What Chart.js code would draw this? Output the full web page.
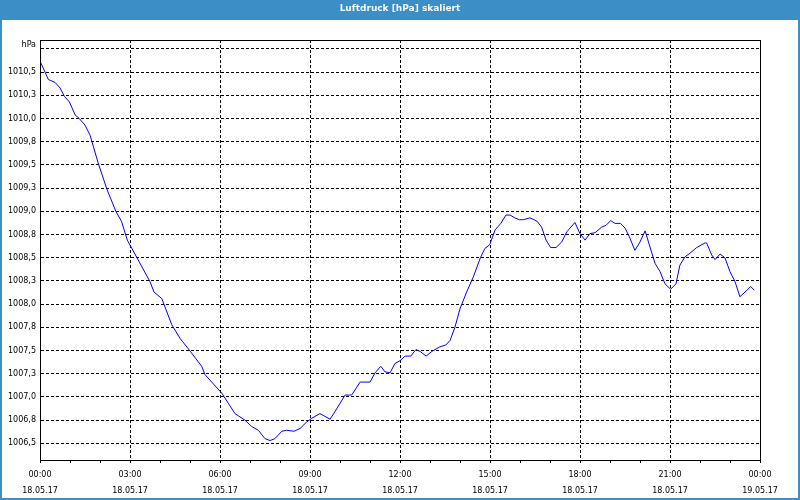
<!DOCTYPE html>
<html>
<head>
<meta charset="utf-8">
<title>Luftdruck</title>
<script src="https://cdn.jsdelivr.net/npm/chart.js@4.4.1/dist/chart.umd.min.js"></script>
<style>
  body { margin: 0; background: #fff; }
  canvas { display: block; }
</style>
</head>
<body>
<canvas id="chart" width="800" height="500"></canvas>
<script>
// time in hours since 18.05.17 00:00
const times = [0, 0.28, 0.36, 0.5, 0.67, 0.81, 0.98, 1.17, 1.31, 1.5, 1.67, 1.94, 2.24, 2.53, 2.72, 2.91,
  3.3, 3.67, 3.8, 4.06, 4.39, 4.67, 4.94, 5.39, 5.5, 6.06, 6.28, 6.5, 6.83, 7.06, 7.28, 7.5, 7.67, 7.83,
  8.06, 8.22, 8.47, 8.67, 8.89, 9.06, 9.33, 9.67, 9.83, 10.17, 10.39, 10.67, 11.0, 11.17, 11.36, 11.5,
  11.67, 11.83, 12.0, 12.17, 12.36, 12.53, 12.67, 12.87, 13.06, 13.33, 13.53, 13.67, 13.83, 14.0, 14.22,
  14.44, 14.68, 14.83, 14.99, 15.17, 15.36, 15.53, 15.67, 15.83, 15.98, 16.11, 16.33, 16.47, 16.58, 16.72,
  16.87, 17.02, 17.2, 17.39, 17.56, 17.83, 18.0, 18.17, 18.33, 18.5, 18.72, 18.87, 19.02, 19.17, 19.35,
  19.5, 19.64, 19.83, 20.0, 20.17, 20.31, 20.5, 20.67, 20.83, 21.02, 21.2, 21.33, 21.5, 21.67, 21.89,
  22.17, 22.22, 22.39, 22.5, 22.67, 22.83, 23.0, 23.17, 23.33, 23.5, 23.69, 23.81];

const pressure = [1010.62, 1010.42, 1010.41, 1010.39, 1010.33, 1010.24, 1010.18, 1010.04, 1010.00, 1009.93,
  1009.82, 1009.52, 1009.23, 1009.00, 1008.89, 1008.69, 1008.46, 1008.24, 1008.13, 1008.06, 1007.78,
  1007.63, 1007.52, 1007.33, 1007.24, 1007.04, 1006.93, 1006.82, 1006.75, 1006.68, 1006.64, 1006.55,
  1006.53, 1006.55, 1006.63, 1006.64, 1006.63, 1006.66, 1006.73, 1006.77, 1006.82, 1006.76, 1006.84,
  1007.02, 1007.02, 1007.16, 1007.16, 1007.26, 1007.33, 1007.27, 1007.26, 1007.36, 1007.39, 1007.44,
  1007.44, 1007.51, 1007.49, 1007.44, 1007.49, 1007.54, 1007.56, 1007.61, 1007.75, 1007.95, 1008.13,
  1008.29, 1008.50, 1008.60, 1008.64, 1008.80, 1008.87, 1008.96, 1008.96, 1008.93, 1008.91, 1008.91,
  1008.93, 1008.91, 1008.89, 1008.83, 1008.69, 1008.61, 1008.61, 1008.67, 1008.78, 1008.88, 1008.76,
  1008.69, 1008.76, 1008.77, 1008.83, 1008.85, 1008.90, 1008.87, 1008.87, 1008.82, 1008.73, 1008.58,
  1008.67, 1008.79, 1008.64, 1008.44, 1008.35, 1008.22, 1008.16, 1008.22, 1008.42, 1008.51, 1008.55,
  1008.61, 1008.66, 1008.66, 1008.53, 1008.48, 1008.54, 1008.50, 1008.35, 1008.24, 1008.08, 1008.13,
  1008.19, 1008.15];

const yTicks = [1006.5, 1006.75, 1007, 1007.25, 1007.5, 1007.75, 1008, 1008.25, 1008.5, 1008.75,
  1009, 1009.25, 1009.5, 1009.75, 1010, 1010.25, 1010.5, 1010.75];
const xHours = [0, 3, 6, 9, 12, 15, 18, 21, 24];
const xTimeLabels = ["00:00", "03:00", "06:00", "09:00", "12:00", "15:00", "18:00", "21:00", "00:00"];
const xDateLabels = ["18.05.17", "18.05.17", "18.05.17", "18.05.17", "18.05.17", "18.05.17", "18.05.17", "18.05.17", "19.05.17"];

const title = "Luftdruck [hPa] skaliert";
const unit = "hPa";
const frameBlue = "rgb(60,143,198)";
const tickFont = "'DejaVu Sans'";

const framePlugin = {
  id: "frame",
  beforeDraw(chart) {
    const ctx = chart.ctx;
    ctx.save();
    ctx.fillStyle = "#fff";
    ctx.fillRect(0, 0, chart.width, chart.height);
    ctx.fillStyle = frameBlue;
    ctx.fillRect(0, 0, chart.width, 20);
    ctx.fillStyle = "#f4f8fb";
    ctx.font = "bold 9px " + tickFont;
    ctx.textAlign = "center";
    ctx.textBaseline = "middle";
    ctx.fillText(title, chart.width / 2, 9);
    ctx.restore();
  },
  afterDraw(chart) {
    const ctx = chart.ctx;
    const a = chart.chartArea;
    ctx.save();
    ctx.strokeStyle = "#000";
    ctx.lineWidth = 1;
    ctx.strokeRect(a.left + 0.5, a.top + 0.5, a.right - a.left, a.bottom - a.top);
    ctx.strokeStyle = frameBlue;
    ctx.lineWidth = 2;
    ctx.strokeRect(1, 1, chart.width - 2, chart.height - 2);
    ctx.fillStyle = "#000";
    ctx.font = "8px " + tickFont;
    ctx.textAlign = "right";
    ctx.textBaseline = "middle";
    ctx.fillText(unit, a.left - 4, 45);
    ctx.restore();
  },
};

new Chart(document.getElementById("chart"), {
  type: "line",
  data: {
    datasets: [
      {
        data: times.map((t, i) => ({ x: t, y: pressure[i] })),
        borderColor: "#0000ff",
        borderWidth: 1,
        pointRadius: 0,
        tension: 0,
        fill: false,
      },
    ],
  },
  options: {
    responsive: false,
    animation: false,
    layout: { padding: { top: 40, right: 40, bottom: 0, left: 0 } },
    plugins: {
      legend: { display: false },
      tooltip: { enabled: false },
    },
    scales: {
      x: {
        type: "linear",
        min: 0,
        max: 24,
        afterFit: (s) => { s.height = 40; },
        ticks: {
          stepSize: 1,
          autoSkip: false,
          maxRotation: 0,
          padding: 4,
          color: "#000",
          font: { family: tickFont, size: 8, lineHeight: "16px" },
          callback: (value) => {
            const i = xHours.indexOf(value);
            return i < 0 ? "" : [xTimeLabels[i], xDateLabels[i]];
          },
        },
        grid: {
          color: (ctx) => (ctx.tick && ctx.tick.value % 3 === 0 ? "#000" : "rgba(0,0,0,0)"),
          tickColor: "#000",
          tickLength: 3,
          lineWidth: 1,
        },
        border: { color: "#000", dash: [3, 2] },
      },
      y: {
        min: 1006.32,
        max: 1010.847,
        afterFit: (s) => { s.width = 40; },
        afterBuildTicks: (s) => { s.ticks = yTicks.map((v) => ({ value: v })); },
        ticks: {
          padding: 4,
          color: "#000",
          font: { family: tickFont, size: 8 },
          callback: (value) => (value > 1010.6 ? "" : value.toFixed(1).replace(".", ",")),
        },
        grid: {
          color: "#000",
          drawTicks: false,
          lineWidth: 1,
        },
        border: { color: "#000", dash: [3, 2] },
      },
    },
  },
  plugins: [framePlugin],
});
</script>
</body>
</html>
